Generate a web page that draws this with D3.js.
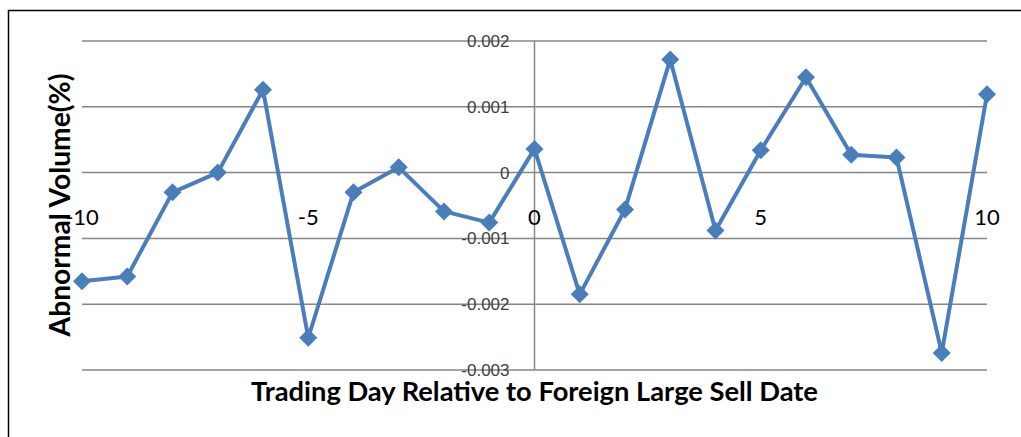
<!DOCTYPE html>
<meta charset="utf-8">
<style>
body { margin: 0; background: #fff; }
.grid line { stroke: #868686; stroke-width: 1.5px; }
.ytick { font-family: "Liberation Sans", Arial, sans-serif; font-size: 17px; fill: #404040; }
.xtick { font-family: Lato, "Open Sans", sans-serif; font-size: 22px; fill: #000; }
.title { font-family: Lato, "Open Sans", sans-serif; font-weight: bold; font-size: 22px; fill: #000; }
.line { fill: none; stroke: #4a7ebb; stroke-width: 4px; stroke-linejoin: round; }
.marker { fill: #4a7ebb; }
</style>
<svg width="1021" height="437"></svg>
<script src="https://d3js.org/d3.v7.min.js"></script>
<script>

const days = d3.range(-10, 11);
const volume = [-0.00165, -0.00158, -0.0003, 0.0, 0.00126, -0.00251, -0.0003, 0.00008,
  -0.00059, -0.00076, 0.00036, -0.00185, -0.00056, 0.00172, -0.00088, 0.00034,
  0.00145, 0.00027, 0.00023, -0.00274, 0.00119];
const yTicks = [0.002, 0.001, 0, -0.001, -0.002, -0.003];
const xTicks = [-10, -5, 0, 5, 10];

var svg = d3.select("svg");

// frame
svg.append("path")
  .attr("d", "M8.5 440 L8.5 10.5 L1025 10.5")
  .attr("fill", "none").attr("stroke", "#000").attr("stroke-width", 1.5);

var x = d3.scaleLinear().domain([-10, 10]).range([82, 987]);
var y = d3.scaleLinear().domain([-0.003, 0.002]).range([370, 41]);

var grid = svg.append("g").attr("class", "grid");
grid.selectAll("line.h").data(yTicks).enter().append("line")
  .attr("x1", x(-10)).attr("x2", x(10))
  .attr("y1", function(d) { return y(d); })
  .attr("y2", function(d) { return y(d); });
grid.append("line")
  .attr("x1", x(0)).attr("x2", x(0))
  .attr("y1", y(0.002)).attr("y2", y(-0.003));

svg.selectAll("text.ytick").data(yTicks).enter().append("text")
  .attr("class", "ytick")
  .attr("x", x(0) - 25)
  .attr("y", function(d) { return y(d); })
  .attr("dy", "0.35em")
  .attr("text-anchor", "end")
  .text(function(d) { return d === 0 ? "0" : d3.format(".3f")(d).replace("−", "-"); });

svg.selectAll("text.xtick").data(xTicks).enter().append("text")
  .attr("class", "xtick")
  .attr("x", function(d) { return x(d); })
  .attr("y", y(0) + 52)
  .attr("text-anchor", "middle")
  .text(function(d) { return d; });

var line = d3.line()
  .x(function(d, i) { return x(days[i]); })
  .y(function(d) { return y(d); });

svg.append("path").datum(volume).attr("class", "line").attr("d", line);

svg.selectAll("path.marker").data(volume).enter().append("path")
  .attr("class", "marker")
  .attr("transform", function(d, i) { return "translate(" + x(days[i]) + "," + y(d) + ")"; })
  .attr("d", "M0 -9 L9 0 L0 9 L-9 0 Z");

// fit a title to a given width
function fit(t, w) {
  var len = t.node().getComputedTextLength();
  t.style("font-size", (22 * w / len) + "px");
}

var xt = svg.append("text").attr("class", "title")
  .attr("x", x(0)).attr("y", 401)
  .attr("text-anchor", "middle")
  .text("Trading Day Relative to Foreign Large Sell Date");
fit(xt, 567);

var yt = svg.append("text").attr("class", "title")
  .attr("transform", "translate(70,205) rotate(-90)")
  .attr("text-anchor", "middle")
  .text("Abnormal Volume(%)");
fit(yt, 263);

</script>
